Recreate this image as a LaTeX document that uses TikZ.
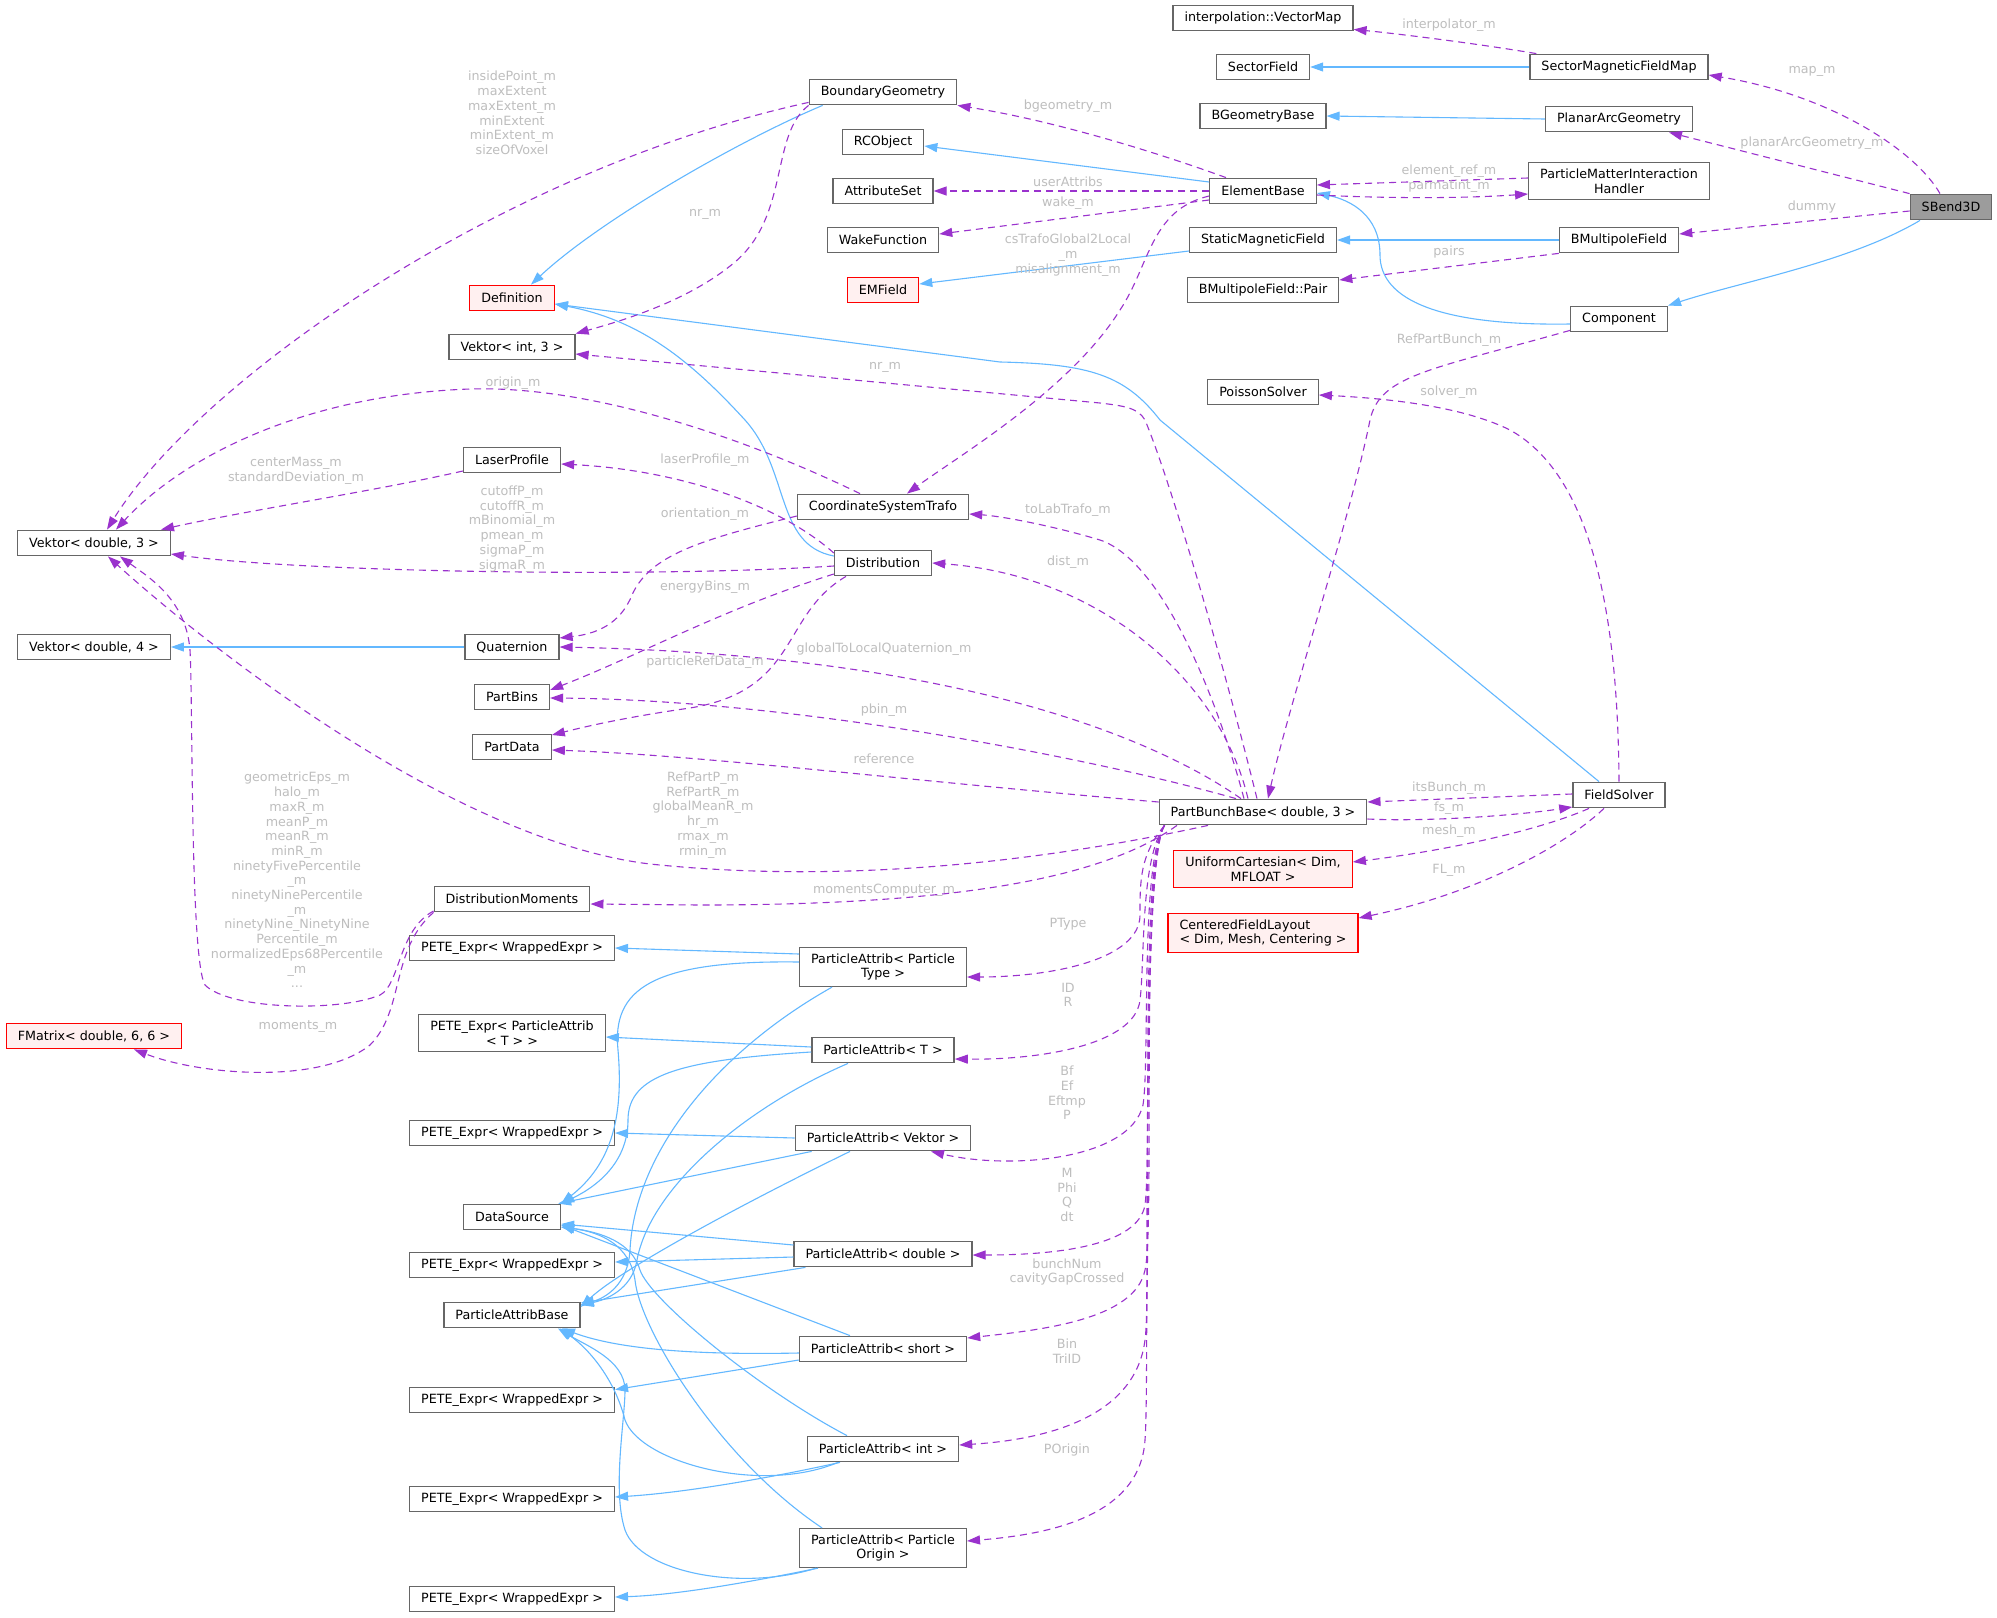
\documentclass[tikz,border=0pt]{standalone}
\usepackage{fontspec}
\setmainfont{DejaVu Sans}
\usepackage{tikz}
\usetikzlibrary{arrows.meta}

\definecolor{inhblue}{HTML}{63B8FF}
\definecolor{usepurple}{HTML}{9A32CD}
\definecolor{boxgray}{HTML}{666666}
\definecolor{lblgray}{HTML}{BEBEBE}
\definecolor{redfill}{HTML}{FFF0F0}

\begin{document}
\begin{tikzpicture}[x=1pt, y=-1pt,
  every node/.style={font=\fontsize{12.7}{14.7}\selectfont},
  cls/.style={draw=boxgray, line width=1.3pt, fill=white, inner xsep=11.5pt, inner ysep=6pt, minimum height=25.5pt, align=center},
  clsred/.style={cls, draw=red, fill=redfill},
  inh/.style={draw=inhblue, line width=1.1pt, -{Triangle[length=13pt,width=9pt]}},
  use/.style={draw=usepurple, line width=1.1pt, dash pattern=on 7pt off 5pt, -{Triangle[length=13pt,width=9pt]}},
  lbl/.style={text=lblgray, align=center, inner sep=0pt}]
  \fill[white] (0,0) rectangle (1997,1617);
  \useasboundingbox (0,0) rectangle (1997,1617);

  % classes, right part
  \node[cls] (vmap)   at (1263,18)  {interpolation::VectorMap};
  \node[cls] (sfield) at (1263,67)  {SectorField};
  \node[cls] (smfm)   at (1619,67)  {SectorMagneticFieldMap};
  \node[cls] (bgbase) at (1263,116) {BGeometryBase};
  \node[cls] (pag)    at (1619,119) {PlanarArcGeometry};
  \node[cls] (elem)   at (1263,191) {ElementBase};
  \node[cls] (pmih)   at (1619,181) {ParticleMatterInteraction\\Handler};
  \node[cls, fill=boxgray!65] (sbend) at (1951,207) {SBend3D};
  \node[cls] (smf)    at (1263,240) {StaticMagneticField};
  \node[cls] (bmf)    at (1619,240) {BMultipoleField};
  \node[cls] (pair)   at (1263,290) {BMultipoleField::Pair};
  \node[cls] (comp)   at (1619,319) {Component};
  \node[cls] (poisson) at (1263,392) {PoissonSolver};
  \node[cls] (fsolv)  at (1619,795) {FieldSolver};
  \node[cls] (pbb)    at (1263,812) {PartBunchBase< double, 3 >};
  \node[clsred] (ucart) at (1263,869) {UniformCartesian< Dim,\\MFLOAT >};
  \node[clsred, align=left] (cfl) at (1263,933) {CenteredFieldLayout\\< Dim, Mesh, Centering >};

  % classes, middle column
  \node[cls] (bgeo)  at (883,92)  {BoundaryGeometry};
  \node[cls] (rco)   at (883,142) {RCObject};
  \node[cls] (attr)  at (883,191) {AttributeSet};
  \node[cls] (wake)  at (883,240) {WakeFunction};
  \node[clsred] (emf) at (883,290) {EMField};
  \node[cls] (cst)   at (883,507) {CoordinateSystemTrafo};
  \node[cls] (distr) at (883,563) {Distribution};
  \node[cls] (pat_pt) at (883,967)  {ParticleAttrib< Particle\\Type >};
  \node[cls] (pat_t)  at (883,1050) {ParticleAttrib< T >};
  \node[cls] (pat_v)  at (883,1138) {ParticleAttrib< Vektor >};
  \node[cls] (pat_d)  at (883,1254) {ParticleAttrib< double >};
  \node[cls] (pat_s)  at (883,1349) {ParticleAttrib< short >};
  \node[cls] (pat_i)  at (883,1449) {ParticleAttrib< int >};
  \node[cls] (pat_o)  at (883,1548) {ParticleAttrib< Particle\\Origin >};

  % classes, left columns
  \node[clsred] (defn) at (512,298) {Definition};
  \node[cls] (vint)  at (512,347) {Vektor< int, 3 >};
  \node[cls] (lprof) at (512,460) {LaserProfile};
  \node[cls] (quat)  at (512,647) {Quaternion};
  \node[cls] (pbins) at (512,697) {PartBins};
  \node[cls] (pdata) at (512,747) {PartData};
  \node[cls] (dmom)  at (512,899) {DistributionMoments};
  \node[cls] (petepa) at (512,1033) {PETE\_Expr< ParticleAttrib\\< T > >};
  \node[cls] (dsrc)  at (512,1217) {DataSource};
  \node[cls] (pab)   at (512,1315) {ParticleAttribBase};
  \foreach \n/\y in {pete1/948, pete2/1133, pete3/1265, pete4/1400, pete5/1499, pete6/1599}
    \node[cls] (\n) at (512,\y) {PETE\_Expr< WrappedExpr >};
  \node[cls] (vd3) at (94,543) {Vektor< double, 3 >};
  \node[cls] (vd4) at (94,647) {Vektor< double, 4 >};
  \node[clsred] (fmat) at (94,1036) {FMatrix< double, 6, 6 >};

  % inheritance
  \draw[inh] ([xshift=14pt]bgeo.south west) .. controls (740,140) and (600,220) .. ([xshift=19pt]defn.north);
  \draw[inh] ([yshift=9pt]elem.west) -- ([yshift=-4pt]rco.east);
  \draw[inh] ([yshift=-11pt]smf.west) -- ([yshift=6pt]emf.east);
  \draw[inh] (smfm.west) -- (sfield.east);
  \draw[inh] (pag.west) -- (bgbase.east);
  \draw[inh] (bmf.west) -- (smf.east);
  \draw[inh] ([yshift=-5pt]comp.west) .. controls (1440,326) and (1380,300) .. (1380,255) .. controls (1380,215) and (1350,200) .. ([yshift=-2pt]elem.east);
  \draw[inh] ([xshift=-31pt]sbend.south) .. controls (1850,262) and (1740,282) .. (comp.north east);
  \draw[inh] ([xshift=-20pt]fsolv.north) -- (1160,420) .. controls (1125,375) and (1090,364) .. (1000,362) -- ([yshift=-6pt]defn.east);
  \draw[inh] ([yshift=7pt]distr.west) .. controls (775,545) and (790,470) .. (745,420) .. controls (690,360) and (640,320) .. ([yshift=-6pt]defn.east);
  \draw[inh] (quat.west) -- (vd4.east);
  % ParticleAttrib bases
  \draw[inh] ([yshift=13pt]pat_pt.west) -- (pete1.east);
  \draw[inh] ([yshift=5pt]pat_pt.west) .. controls (650,960) and (612,990) .. (618,1050) .. controls (624,1120) and (610,1165) .. (dsrc.north east);
  \draw[inh] ([xshift=-51pt]pat_pt.south) .. controls (720,1050) and (635,1150) .. (630,1250) .. controls (628,1285) and (605,1298) .. ([yshift=10pt]pab.east);
  \draw[inh] ([yshift=3pt]pat_t.west) -- ([yshift=-4pt]petepa.east);
  \draw[inh] ([yshift=-2pt]pat_t.west) .. controls (680,1060) and (628,1075) .. (628,1120) .. controls (628,1160) and (600,1185) .. (dsrc.north east);
  \draw[inh] ([xshift=-35pt]pat_t.south) .. controls (740,1110) and (650,1190) .. (637,1260) .. controls (632,1290) and (605,1300) .. ([yshift=10pt]pab.east);
  \draw[inh] (pat_v.west) -- (pete2.east);
  \draw[inh] ([xshift=17pt]pat_v.south west) -- ([xshift=-3pt]dsrc.north east);
  \draw[inh] ([xshift=-33pt]pat_v.south) .. controls (740,1205) and (620,1270) .. ([yshift=8pt]pab.east);
  \draw[inh] ([yshift=9pt]pat_d.west) -- ([yshift=-7pt]dsrc.east);
  \draw[inh] ([yshift=-3pt]pat_d.west) -- ([yshift=3pt]pete3.east);
  \draw[inh] ([xshift=12pt]pat_d.south west) -- ([yshift=12pt]pab.east);
  \draw[inh] ([yshift=-4pt]pat_s.west) .. controls (700,1355) and (620,1350) .. ([xshift=50pt]pab.south);
  \draw[inh] ([yshift=-11pt]pat_s.west) -- ([yshift=-3pt]pete4.north east);
  \draw[inh] ([xshift=-33pt]pat_s.north) -- ([yshift=-8pt]dsrc.east);
  \draw[inh] ([xshift=-43pt]pat_i.south) .. controls (760,1480) and (680,1493) .. ([yshift=2pt]pete5.east);
  \draw[inh] ([xshift=-45pt]pat_i.south) .. controls (760,1495) and (640,1462) .. (625,1420) .. controls (615,1380) and (590,1350) .. ([xshift=48pt]pab.south);
  \draw[inh] ([xshift=-36pt]pat_i.north) .. controls (760,1390) and (650,1300) .. (640,1270) .. controls (632,1242) and (600,1232) .. ([yshift=-10pt]dsrc.east);
  \draw[inh] ([xshift=-61pt]pat_o.north) .. controls (720,1460) and (640,1330) .. (635,1280) .. controls (630,1245) and (600,1232) .. ([yshift=-10pt]dsrc.east);
  \draw[inh] ([xshift=-65pt]pat_o.south) .. controls (760,1580) and (680,1595) .. ([yshift=2pt]pete6.east);
  \draw[inh] ([xshift=-67pt]pat_o.south) .. controls (740,1592) and (640,1572) .. (625,1530) .. controls (612,1490) and (625,1420) .. (625,1390) .. controls (625,1360) and (585,1345) .. ([xshift=46pt]pab.south);

  % usage, right part
  \draw[use] ([xshift=7pt]smfm.north west) .. controls (1480,44) and (1400,34) .. ([yshift=2pt]vmap.south east);
  \draw[use] ([xshift=-11pt]sbend.north) .. controls (1915,150) and (1830,95) .. ([yshift=-8pt]smfm.east);
  \draw[use] (sbend.north west) -- ([xshift=50pt]pag.south);
  \draw[use] ([yshift=-4pt]sbend.west) -- ([yshift=6pt]bmf.east);
  \draw[use] ([yshift=3pt]pmih.west) -- ([yshift=6pt]elem.east);
  \draw[use] ([yshift=-4pt]elem.east) .. controls (1400,199) and (1470,198) .. ([yshift=-13pt]pmih.west);
  \draw[use] (bmf.south west) -- ([yshift=10pt]pair.east);
  \draw[use] ([yshift=2pt]comp.south west) .. controls (1430,370) and (1380,375) .. (1370,420) .. controls (1350,520) and (1290,700) .. ([xshift=5pt]pbb.north);
  \draw[use] (fsolv.north) .. controls (1618,640) and (1600,480) .. (1510,430) .. controls (1460,405) and (1380,398) .. ([yshift=-3pt]poisson.east);
  \draw[use] ([yshift=1pt]fsolv.west) -- ([yshift=10pt]pbb.east);
  \draw[use] ([yshift=-7pt]pbb.east) .. controls (1430,822) and (1520,815) .. ([yshift=-12pt]fsolv.west);
  \draw[use] ([xshift=-30pt]fsolv.south) .. controls (1540,830) and (1450,850) .. ([yshift=7pt]ucart.east);
  \draw[use] ([xshift=-15pt]fsolv.south) .. controls (1560,850) and (1470,895) .. ([yshift=15pt]cfl.east);
  % usage, ElementBase
  \draw[use] ([xshift=-37pt]elem.north) .. controls (1150,150) and (1050,120) .. (bgeo.south east);
  \draw[use] (elem.west) -- (attr.east);
  \draw[use] ([yshift=-9pt]elem.west) -- ([yshift=6pt]wake.east);
  \draw[use] ([yshift=-5pt]elem.west) .. controls (1150,210) and (1150,265) .. (1120,310) .. controls (1070,390) and (960,455) .. ([xshift=24pt]cst.north);
  % usage, left part
  \draw[use] ([yshift=3pt]bgeo.south west) .. controls (500,170) and (200,380) .. ([xshift=13pt]vd3.north);
  \draw[use] (bgeo.south west) .. controls (770,135) and (790,215) .. (735,262) .. controls (690,300) and (625,320) .. (vint.north east);
  \draw[use] ([xshift=-23pt]cst.north) .. controls (760,445) and (600,385) .. (470,389) .. controls (300,395) and (180,460) .. ([xshift=22pt]vd3.north);
  \draw[use] ([yshift=-11pt]lprof.west) .. controls (380,490) and (250,510) .. ([xshift=67pt]vd3.north);
  \draw[use] ([yshift=10pt]distr.west) .. controls (780,505) and (680,470) .. ([yshift=-4pt]lprof.east);
  \draw[use] ([yshift=-3pt]distr.west) .. controls (650,578) and (300,572) .. ([yshift=-11pt]vd3.east);
  \draw[use] ([yshift=-9pt]cst.west) .. controls (700,540) and (650,555) .. (632,595) .. controls (620,625) and (595,634) .. ([yshift=9pt]quat.east);
  \draw[use] ([yshift=-11pt]distr.west) .. controls (720,610) and (640,655) .. ([yshift=7pt]pbins.east);
  \draw[use] ([xshift=-37pt]distr.south) .. controls (780,615) and (800,690) .. (690,708) .. controls (620,718) and (580,728) .. ([yshift=12pt]pdata.east);
  \draw[use] ([yshift=-12pt]dmom.west) .. controls (398,930) and (400,985) .. (380,995) .. controls (340,1012) and (230,1010) .. (205,985) .. controls (190,960) and (193,700) .. (190,650) .. controls (186,600) and (150,578) .. ([xshift=26pt]vd3.south);
  \draw[use] (dmom.south west) .. controls (390,950) and (405,1010) .. (370,1045) .. controls (320,1085) and (200,1075) .. ([xshift=40pt]fmat.south);
  % usage, PartBunchBase
  \draw[use] ([xshift=-6pt]pbb.north) .. controls (1220,650) and (1170,480) .. (1145,420) .. controls (1138,408) and (1125,406) .. (1100,403) -- ([yshift=-7pt]vint.east);
  \draw[use] ([xshift=-19pt]pbb.north) .. controls (1215,690) and (1160,560) .. (1100,540) .. controls (1050,525) and (1000,516) .. ([yshift=-7pt]cst.east);
  \draw[use] ([xshift=-15pt]pbb.north) .. controls (1220,680) and (1100,575) .. (distr.east);
  \draw[use] ([xshift=-22pt]pbb.north) .. controls (1150,735) and (950,655) .. (quat.east);
  \draw[use] ([xshift=-27pt]pbb.north) .. controls (1100,760) and (800,700) .. ([yshift=-1pt]pbins.east);
  \draw[use] ([yshift=10pt]pbb.west) .. controls (900,780) and (700,755) .. ([yshift=-3pt]pdata.east);
  \draw[use] ([xshift=-55pt]pbb.south) .. controls (1050,860) and (850,885) .. (650,864) .. controls (450,840) and (200,640) .. ([xshift=14pt]vd3.south);
  \draw[use] ([xshift=-86pt]pbb.south) .. controls (1100,880) and (950,905) .. (700,905) -- ([yshift=-5pt]dmom.east);
  \draw[use] ([xshift=6pt]pbb.south west) .. controls (1140,855) and (1140,880) .. (1140,915) .. controls (1140,960) and (1050,977) .. ([yshift=-10pt]pat_pt.east);
  \draw[use] ([xshift=6pt]pbb.south west) .. controls (1140,860) and (1145,960) .. (1140,1000) .. controls (1135,1045) and (1040,1060) .. ([yshift=-9pt]pat_t.east);
  \draw[use] ([xshift=6pt]pbb.south west) .. controls (1140,860) and (1150,1060) .. (1143,1105) .. controls (1130,1160) and (1010,1170) .. ([xshift=48pt]pat_v.south);
  \draw[use] ([xshift=6pt]pbb.south west) .. controls (1140,860) and (1152,1150) .. (1145,1205) .. controls (1138,1245) and (1060,1255) .. ([yshift=-1pt]pat_d.east);
  \draw[use] ([xshift=6pt]pbb.south west) .. controls (1140,860) and (1155,1230) .. (1145,1270) .. controls (1135,1320) and (1040,1330) .. ([yshift=11pt]pat_s.east);
  \draw[use] ([xshift=6pt]pbb.south west) .. controls (1140,860) and (1152,1290) .. (1145,1340) .. controls (1135,1420) and (1040,1440) .. ([yshift=4pt]pat_i.east);
  \draw[use] ([xshift=6pt]pbb.south west) .. controls (1140,860) and (1150,1380) .. (1145,1440) .. controls (1140,1520) and (1040,1535) .. ([yshift=7pt]pat_o.east);

  % member labels
  \node[lbl] (l-interp) at (1449,25)  {interpolator\_m};
  \node[lbl] (l-map)    at (1812,71)  {map\_m};
  \node[lbl] (l-arc)    at (1812,143) {planarArcGeometry\_m};
  \node[lbl] (l-elref)  at (1449,171) {element\_ref\_m};
  \node[lbl] (l-pmi)    at (1449,186) {parmatint\_m};
  \node[lbl] (l-dummy)  at (1812,207) {dummy};
  \node[lbl] (l-pairs)  at (1449,252) {pairs};
  \node[lbl] (l-refpb)  at (1449,340) {RefPartBunch\_m};
  \node[lbl] (l-solver) at (1449,392) {solver\_m};
  \node[lbl] (l-bgeo)   at (1068,106) {bgeometry\_m};
  \node[lbl] (l-uattr)  at (1068,182) {userAttribs};
  \node[lbl] (l-wake)   at (1068,203) {wake\_m};
  \node[lbl] (l-cstraf) at (1068,255) {csTrafoGlobal2Local\\\_m\\misalignment\_m};
  \node[lbl] (l-nr2)    at (885,367)  {nr\_m};
  \node[lbl] (l-nr1)    at (705,214)  {nr\_m};
  \node[lbl] (l-inside) at (512,113)  {insidePoint\_m\\maxExtent\\maxExtent\_m\\minExtent\\minExtent\_m\\sizeOfVoxel};
  \node[lbl] (l-origin) at (513,383)  {origin\_m};
  \node[lbl] (l-center) at (296,471)  {centerMass\_m\\standardDeviation\_m};
  \node[lbl] (l-laser)  at (705,460)  {laserProfile\_m};
  \node[lbl] (l-cutoff) at (512,529)  {cutoffP\_m\\cutoffR\_m\\mBinomial\_m\\pmean\_m\\sigmaP\_m\\sigmaR\_m};
  \node[lbl] (l-orient) at (705,514)  {orientation\_m};
  \node[lbl] (l-ebins)  at (705,587)  {energyBins\_m};
  \node[lbl] (l-prefd)  at (705,662)  {particleRefData\_m};
  \node[lbl] (l-tolab)  at (1068,510) {toLabTrafo\_m};
  \node[lbl] (l-dist)   at (1068,562) {dist\_m};
  \node[lbl] (l-gquat)  at (884,649)  {globalToLocalQuaternion\_m};
  \node[lbl] (l-pbin)   at (884,710)  {pbin\_m};
  \node[lbl] (l-ref)    at (884,759)  {reference};
  \node[lbl] (l-refp)   at (703,815)  {RefPartP\_m\\RefPartR\_m\\globalMeanR\_m\\hr\_m\\rmax\_m\\rmin\_m};
  \node[lbl] (l-mcomp)  at (884,890)  {momentsComputer\_m};
  \node[lbl] (l-geps)   at (297,880)  {geometricEps\_m\\halo\_m\\maxR\_m\\meanP\_m\\meanR\_m\\minR\_m\\ninetyFivePercentile\\\_m\\ninetyNinePercentile\\\_m\\ninetyNine\_NinetyNine\\Percentile\_m\\normalizedEps68Percentile\\\_m\\...};
  \node[lbl] (l-moms)   at (298,1027) {moments\_m};
  \node[lbl] (l-itsb)   at (1449,788) {itsBunch\_m};
  \node[lbl] (l-fs)     at (1449,808) {fs\_m};
  \node[lbl] (l-mesh)   at (1449,831) {mesh\_m};
  \node[lbl] (l-fl)     at (1449,870) {FL\_m};
  \node[lbl] (l-ptype)  at (1068,924) {PType};
  \node[lbl] (l-idr)    at (1068,995) {ID\\R};
  \node[lbl] (l-bf)     at (1067,1093) {Bf\\Ef\\Eftmp\\P};
  \node[lbl] (l-mphi)   at (1067,1195) {M\\Phi\\Q\\dt};
  \node[lbl] (l-bunch)  at (1067,1272) {bunchNum\\cavityGapCrossed};
  \node[lbl] (l-bin)    at (1067,1351) {Bin\\TriID};
  \node[lbl] (l-porig)  at (1067,1450) {POrigin};
\end{tikzpicture}
\end{document}
